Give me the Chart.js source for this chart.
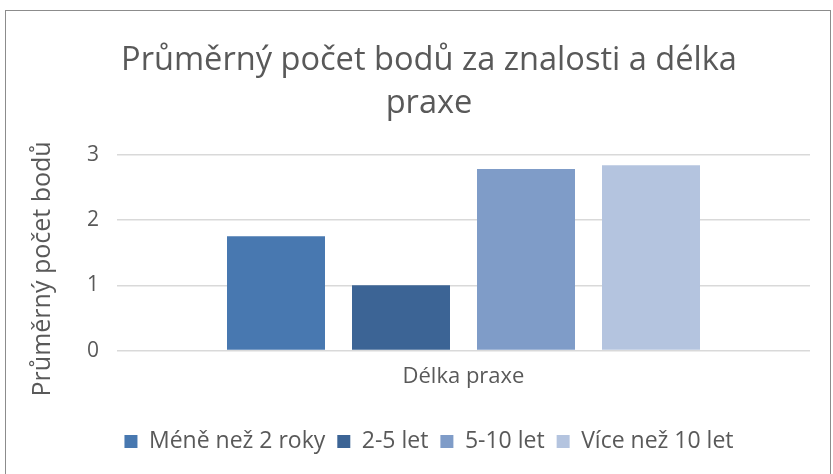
<!DOCTYPE html>
<html>
<head>
<meta charset="utf-8">
<script src="https://cdn.jsdelivr.net/npm/chart.js@4.4.1/dist/chart.umd.min.js"></script>
<style>
    body { margin: 0; background: #fff; }
    #wrap {
        position: absolute; left: 5px; top: 10px;
        width: 826px; height: 470px;
        border: 1px solid #8c8c8c; box-sizing: border-box;
    }
</style>
</head>
<body>
<div id="wrap"><canvas id="chart"></canvas></div>
<script>
// Category and series
const categories = ['Délka praxe'];
const seriesNames = ['Méně než 2 roky', '2-5 let', '5-10 let', 'Více než 10 let'];
const seriesValues = [1.75, 1.0, 2.78, 2.84];
const seriesColors = ['#4878b0', '#3c6495', '#7f9cc8', '#b4c4df'];
const yTicks = [0, 1, 2, 3];

const textColor = '#595959';
const fontFamily = '"Open Sans", sans-serif';

const data = {
    labels: categories,
    datasets: seriesNames.map((name, i) => ({
        label: name,
        data: [seriesValues[i]],
        backgroundColor: seriesColors[i],
        barPercentage: 0.784,
        categoryPercentage: 0.7215
    }))
};

const config = {
    type: 'bar',
    data: data,
    options: {
        responsive: true,
        maintainAspectRatio: false,
        animation: false,
        layout: { padding: { left: 42, right: 20, top: 29, bottom: 16 } },
        plugins: {
            title: {
                display: true,
                text: ['Průměrný počet bodů za znalosti a délka', 'praxe'],
                color: textColor,
                font: { family: fontFamily, size: 32.6, weight: 'normal', lineHeight: 1.3 },
                padding: { top: 0, bottom: 30 }
            },
            legend: {
                position: 'bottom',
                labels: {
                    color: textColor,
                    font: { family: fontFamily, size: 23 },
                    boxWidth: 13,
                    boxHeight: 13,
                    padding: 12
                }
            },
            tooltip: { enabled: false }
        },
        scales: {
            x: {
                grid: { display: false, drawTicks: false },
                border: { display: false },
                ticks: { color: textColor, font: { family: fontFamily, size: 22 }, padding: 13 },
                afterFit: axis => { axis.height += 15; }
            },
            y: {
                min: 0,
                max: 3,
                afterBuildTicks: axis => { axis.ticks = yTicks.map(v => ({ value: v })); },
                afterFit: axis => { axis.width = 69; },
                grid: { color: '#d9d9d9', lineWidth: 1.5, drawTicks: false },
                border: { display: false },
                ticks: { color: textColor, font: { family: fontFamily, size: 21 }, padding: 18 },
                title: {
                    display: true,
                    // trailing spaces push the title a bit down, as in the original
                    text: 'Průměrný počet bodů\u00a0\u00a0\u00a0\u00a0\u00a0',
                    color: textColor,
                    font: { family: fontFamily, size: 25 },
                    padding: { top: -20, bottom: 0 }
                }
            }
        }
    }
};

const chart = new Chart(document.getElementById('chart'), config);
</script>
</body>
</html>
